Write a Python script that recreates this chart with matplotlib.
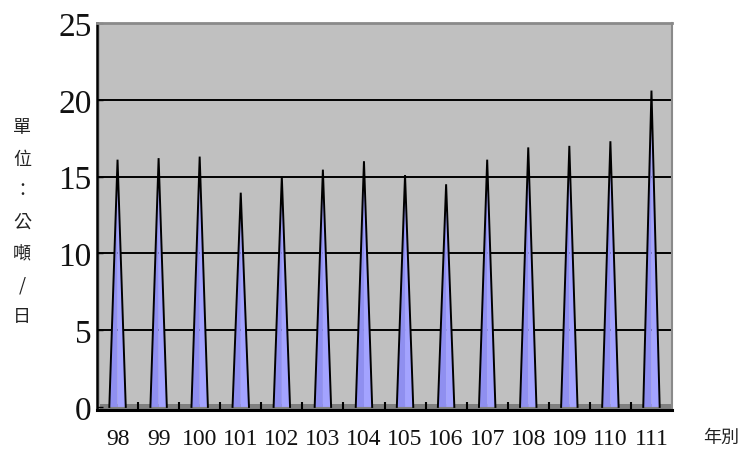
import matplotlib
matplotlib.use("Agg")
import matplotlib.pyplot as plt
from matplotlib.patches import Polygon

# data
years = ["98", "99", "100", "101", "102", "103", "104", "105", "106", "107",
         "108", "109", "110", "111"]
values = [16.1, 16.2, 16.3, 13.95, 15.0, 15.45, 16.0, 15.1, 14.5, 16.1,
          16.9, 17.0, 17.3, 20.6]
yticks = [0, 5, 10, 15, 20, 25]
ylabel_chars = ["單", "位", "：", "公", "噸", "/", "日"]

fig = plt.figure(figsize=(7.46, 4.52), dpi=100)
ax = fig.add_axes([97 / 746, 1 - 411 / 452, (672 - 97) / 746, (411 - 24) / 452])
ax.set_facecolor("#c0c0c0")
ax.set_xlim(-0.5, len(years) - 0.5)
ax.set_ylim(-0.2, 25)

# floor + left wall
ax.axhspan(-0.2, 0.22, color="#808080", zorder=1, lw=0)
ax.axvspan(-0.5, -0.42, color="#a6a6a6", zorder=1, lw=0)

# grid
for g in yticks[1:-1]:
    ax.axhline(g, color="black", lw=1.4, zorder=2)

# spikes
hw = 0.2
for i, v in enumerate(values):
    left = Polygon([(i - hw, 0), (i, v), (i, 0)], closed=True,
                   facecolor="#8f8ff0", edgecolor="none", zorder=3)
    right = Polygon([(i, 0), (i, v), (i + hw, 0)], closed=True,
                    facecolor="#a3a3ff", edgecolor="none", zorder=3)
    ax.add_patch(left)
    ax.add_patch(right)
    ax.plot([i - hw, i, i + hw], [0, v, 0], color="black", lw=1.4,
            solid_joinstyle="miter", zorder=4)

# spines
ax.spines["left"].set_color("black")
ax.spines["left"].set_linewidth(1.8)
ax.spines["bottom"].set_color("black")
ax.spines["bottom"].set_linewidth(2.2)
ax.spines["top"].set_color("#8a8a8a")
ax.spines["top"].set_linewidth(2)
ax.spines["right"].set_color("#8a8a8a")
ax.spines["right"].set_linewidth(1.5)

ax.set_yticks(yticks)
ax.set_yticklabels([str(t) for t in yticks], family="Liberation Serif",
                   fontsize=24, color="#111111")
ax.tick_params(axis="y", length=4, width=1, direction="in", pad=4)

ax.set_xticks(range(len(years)))
ax.set_xticklabels(years, family="Liberation Serif", fontsize=17,
                   color="#111111")
ax.tick_params(axis="x", length=0, pad=13)
# boundary tick marks on the floor
ax.set_xticks([i + 0.5 for i in range(len(years) - 1)], minor=True)
ax.tick_params(axis="x", which="minor", length=6, width=1.5, direction="in",
               color="black")

# stacked y label
y0 = 128
for k, ch in enumerate(ylabel_chars):
    fig.text(22 / 746, 1 - (y0 + k * 31.5) / 452, ch, ha="center",
             va="center", fontsize=13, color="#222222",
             family=["Noto Sans CJK TC", "DejaVu Sans"])

fig.text(721 / 746, 1 - 438 / 452, "年別", ha="center", va="center",
         fontsize=13, color="#222222",
         family=["Noto Sans CJK TC", "DejaVu Sans"])

fig.savefig("out.png", dpi=100)
